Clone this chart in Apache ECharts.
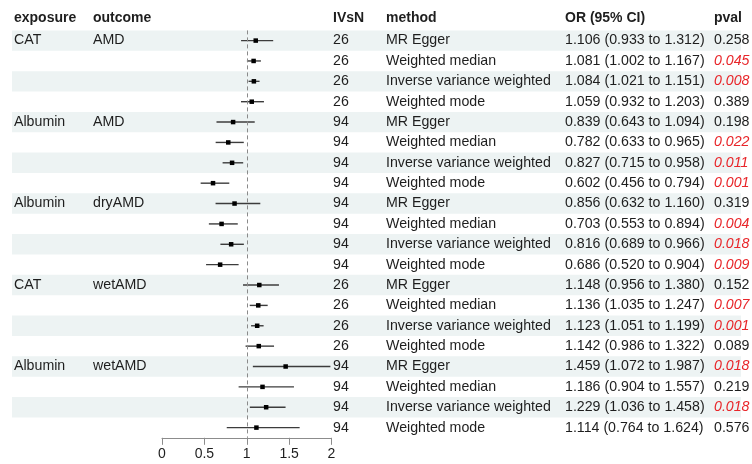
<!DOCTYPE html>
<html>
<head>
<meta charset="utf-8">
<script src="https://cdn.jsdelivr.net/npm/echarts@6/dist/echarts.min.js"></script>
<style>
  html, body { margin: 0; padding: 0; background: #fff; }
  #chart { width: 752px; height: 464px; }
</style>
</head>
<body>
<div id="chart"></div>
<script>
// Mendelian randomisation results: CAT / Albumin on AMD subtypes
const exposure = ['CAT', '', '', '', 'Albumin', '', '', '', 'Albumin', '', '', '', 'CAT', '', '', '', 'Albumin', '', '', ''];
const outcome  = ['AMD', '', '', '', 'AMD', '', '', '', 'dryAMD', '', '', '', 'wetAMD', '', '', '', 'wetAMD', '', '', ''];
const ivsN     = [26, 26, 26, 26, 94, 94, 94, 94, 94, 94, 94, 94, 26, 26, 26, 26, 94, 94, 94, 94];
const methods  = ['MR Egger', 'Weighted median', 'Inverse variance weighted', 'Weighted mode'];
const method   = [].concat(methods, methods, methods, methods, methods);
const orVal    = [1.106, 1.081, 1.084, 1.059, 0.839, 0.782, 0.827, 0.602, 0.856, 0.703, 0.816, 0.686, 1.148, 1.136, 1.123, 1.142, 1.459, 1.186, 1.229, 1.114];
const lower    = [0.933, 1.002, 1.021, 0.932, 0.643, 0.633, 0.715, 0.456, 0.632, 0.553, 0.689, 0.520, 0.956, 1.035, 1.051, 0.986, 1.072, 0.904, 1.036, 0.764];
const upper    = [1.312, 1.167, 1.151, 1.203, 1.094, 0.965, 0.958, 0.794, 1.160, 0.894, 0.966, 0.904, 1.380, 1.247, 1.199, 1.322, 1.987, 1.557, 1.458, 1.624];
const pval     = [0.258, 0.045, 0.008, 0.389, 0.198, 0.022, 0.011, 0.001, 0.319, 0.004, 0.018, 0.009, 0.152, 0.007, 0.001, 0.089, 0.018, 0.219, 0.018, 0.576];
const headers  = ['exposure', 'outcome', 'IVsN', 'method', 'OR (95% CI)', 'pval'];
const xTicks   = [0, 0.5, 1, 1.5, 2];

const FONT = '"Liberation Sans", Arial, Helvetica, sans-serif';
const TEXT_COLOR = '#1e1e1e';
const BAND = '#edf3f3';
const colX = [14, 93, 333, 386, 565, 714];   // left edge of each table column
const GRID_TOP = 30.4, GRID_H = 407.4;

const nRows = orVal.length;
const rows = Array.from({ length: nRows }, (_, i) => i);
const fmt = v => v.toFixed(3);

const chart = echarts.init(document.getElementById('chart'), null, { renderer: 'canvas' });

// rows are placed on a value axis: row i is centred on i, spanning i-0.5 .. i+0.5
const rowAxis = g => ({ gridIndex: g, type: 'value', min: -0.5, max: nRows - 0.5, inverse: true, show: false });

const option = {
  animation: false,
  backgroundColor: '#fff',
  grid: [
    { left: 0, right: 0, top: GRID_TOP, height: GRID_H },             // table layer
    { left: 162, right: 420.5, top: GRID_TOP, height: GRID_H }         // forest plot
  ],
  xAxis: [
    { gridIndex: 0, type: 'value', min: 0, max: 752, show: false },
    {
      gridIndex: 1, type: 'value', min: 0, max: 2, interval: 0.5, position: 'bottom',
      axisLine: { show: true, onZero: false, lineStyle: { color: '#8c8c8c', width: 1 } },
      axisTick: { show: true, length: 7, lineStyle: { color: '#8c8c8c' } },
      axisLabel: {
        margin: 9, fontSize: 14, fontFamily: FONT, color: TEXT_COLOR,
        formatter: v => (xTicks.indexOf(v) >= 0 ? String(v) : '')
      },
      splitLine: { show: false }
    }
  ],
  yAxis: [rowAxis(0), rowAxis(1)],
  graphic: headers.map((h, k) => ({
    type: 'text', left: colX[k], top: 11, silent: true,
    style: { text: h, font: 'bold 14px ' + FONT, fill: TEXT_COLOR }
  })),
  series: [
    {
      // alternating row shading
      type: 'custom', xAxisIndex: 0, yAxisIndex: 0, z: 0, silent: true,
      data: rows.filter(i => i % 2 === 0).map(i => [0, i]),
      encode: { x: 0, y: 1 },
      renderItem: (params, api) => {
        const r = api.value(1);
        const a = api.coord([12, r - 0.5]);
        const b = api.coord([741, r + 0.5]);
        return { type: 'rect', shape: { x: a[0], y: a[1], width: b[0] - a[0], height: b[1] - a[1] }, style: { fill: BAND } };
      }
    },
    {
      // table text columns
      type: 'custom', xAxisIndex: 0, yAxisIndex: 0, z: 2, silent: true,
      data: rows.map(i => [0, i]),
      encode: { x: 0, y: 1 },
      renderItem: (params, api) => {
        const i = api.value(1);
        const y = api.coord([0, i])[1];
        const cells = [exposure[i], outcome[i], String(ivsN[i]), method[i],
          fmt(orVal[i]) + ' (' + fmt(lower[i]) + ' to ' + fmt(upper[i]) + ')'];
        const children = cells.map((t, k) => ({
          type: 'text', x: colX[k], y: y,
          style: { text: t, font: '14.2px ' + FONT, fill: TEXT_COLOR, verticalAlign: 'middle', align: 'left' }
        }));
        const sig = pval[i] < 0.05;
        children.push({
          type: 'text', x: colX[5], y: y,
          style: {
            text: fmt(pval[i]), font: (sig ? 'italic ' : '') + '14.2px ' + FONT,
            fill: sig ? '#e8262a' : TEXT_COLOR, verticalAlign: 'middle', align: 'left'
          }
        });
        return { type: 'group', children };
      }
    },
    {
      // point estimates with 95% confidence intervals
      type: 'custom', xAxisIndex: 1, yAxisIndex: 1, z: 3, clip: false,
      data: rows.map(i => [orVal[i], lower[i], upper[i], i]),
      encode: { x: [0, 1, 2], y: 3 },
      renderItem: (params, api) => {
        const r = api.value(3);
        const pL = api.coord([api.value(1), r]);
        const pU = api.coord([api.value(2), r]);
        const pO = api.coord([api.value(0), r]);
        const s = 4.5;
        return {
          type: 'group',
          children: [
            { type: 'line', shape: { x1: pL[0], y1: pL[1], x2: pU[0], y2: pU[1] }, style: { stroke: '#3c3c3c', lineWidth: 1.4 } },
            { type: 'rect', shape: { x: pO[0] - s / 2, y: pO[1] - s / 2, width: s, height: s }, style: { fill: '#000' } }
          ]
        };
      },
      markLine: {
        silent: true, symbol: 'none', animation: false,
        label: { show: false },
        lineStyle: { type: [4, 3], color: '#8a8a8a', width: 1 },
        data: [{ xAxis: 1 }]
      }
    }
  ]
};

chart.setOption(option);
</script>
</body>
</html>
